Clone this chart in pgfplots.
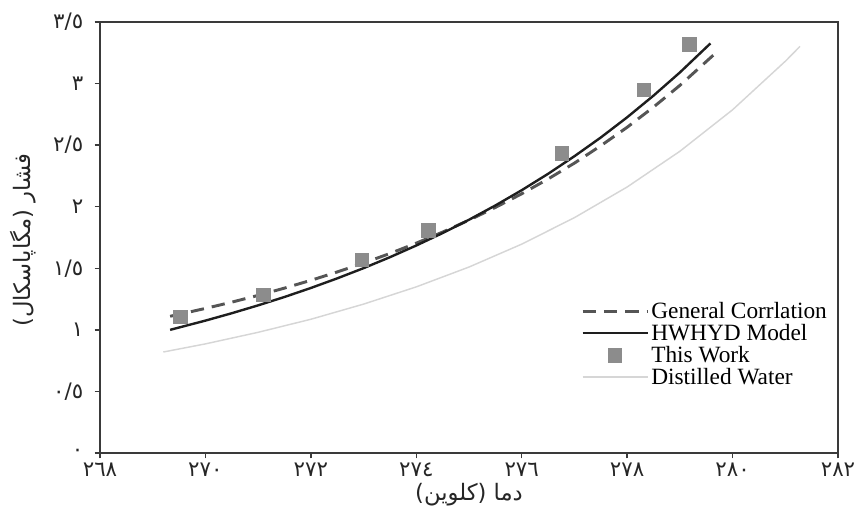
\documentclass[border=0pt]{standalone}
\usepackage{fontspec}
\setmainfont{Liberation Serif}
\newfontfamily\arabicfont[Script=Arabic]{DejaVu Sans}
\usepackage{pgfplots}
\pgfplotsset{compat=1.18}
\TeXXeTstate=1
\definecolor{framec}{HTML}{3A3A3A}
\definecolor{dashc}{HTML}{555555}
\definecolor{solidc}{HTML}{1E1E1E}
\definecolor{sqc}{HTML}{8C8C8C}
\definecolor{waterc}{HTML}{D6D6D6}
\pgfplotsset{marklegend/.style={legend image code/.code={\draw[##1] plot coordinates {(24pt,0pt)};}}}
\begin{document}
\begin{tikzpicture}[x=1pt,y=1pt]
\useasboundingbox (-75,-50.25) rectangle (576,339.75);
\begin{axis}[
  at={(0,0)}, anchor=south west,
  scale only axis, width=553.5pt, height=323.25pt,
  xmin=268, xmax=282, ymin=0, ymax=3.5,
  xtick={268,270,272,274,276,278,280,282},
  xticklabels={٢٦٨,٢٧٠,٢٧٢,٢٧٤,٢٧٦,٢٧٨,٢٨٠,٢٨٢},
  ytick={0,0.5,1,1.5,2,2.5,3,3.5},
  yticklabels={٠,٠/٥,١,١/٥,٢,٢/٥,٣,٣/٥},
  tick label style={font=\arabicfont\fontsize{16}{18}\selectfont, color=black!85},
  yticklabel style={xshift=-5pt},
  axis line style={color=framec, line width=2pt},
  tick style={color=framec, line width=1pt},
  tick align=outside, major tick length=4pt,
  xtick pos=bottom, ytick pos=left,
  xlabel={\arabicfont\beginR دما (کلوین)\endR},
  ylabel={\arabicfont\beginR فشار (مگاپاسکال)\endR},
  label style={font=\arabicfont\fontsize{17}{19}\selectfont, color=black!85},
  xlabel style={at={(axis description cs:0.5,-0.0974)}, anchor=center},
  ylabel style={at={(axis description cs:-0.1045,0.494)}, anchor=center},
  legend style={draw=none, fill=none, at={(0.988,0.352)}, anchor=north east,
    font=\fontsize{17.5}{18}\selectfont, row sep=1.8pt, inner sep=0pt,
    nodes={inner xsep=1.5pt, inner ysep=0.5pt}},
  legend cell align=left,
  legend image code/.code={\draw[#1] (0pt,0pt) -- (49pt,0pt);},
]
\addplot[color=dashc, line width=2.2pt, dash pattern=on 10pt off 6pt] coordinates {
(269.33,1.110) (270,1.174) (270.5,1.225) (271,1.280) (271.5,1.339) (272,1.402)
(272.5,1.470) (273,1.543) (273.5,1.620) (274,1.704) (274.5,1.794) (275,1.891)
(275.5,1.994) (276,2.105) (276.5,2.225) (277,2.354) (277.5,2.495) (278,2.645)
(278.5,2.809) (279,2.985) (279.69,3.252)};
\addlegendentry{General Corrlation}
\addplot[color=solidc, line width=1.8pt] coordinates {
(269.33,1.000) (270,1.075) (270.5,1.135) (271,1.199) (271.5,1.267) (272,1.340)
(272.5,1.418) (273,1.501) (273.5,1.590) (274,1.685) (274.5,1.786) (275,1.894)
(275.5,2.010) (276,2.134) (276.5,2.267) (277,2.410) (277.5,2.562) (278,2.726)
(278.5,2.902) (279,3.090) (279.58,3.326)};
\addlegendentry{HWHYD Model}
\addplot[only marks, mark=square*, mark size=5pt, color=sqc, marklegend] coordinates {
(269.52,1.107) (271.1,1.283) (272.96,1.567) (274.23,1.81) (276.76,2.434) (278.31,2.948) (279.18,3.32)};
\addlegendentry{This Work}
\addplot[color=waterc, line width=1.1pt] coordinates {
(269.2,0.820) (270,0.886) (271,0.980) (272,1.086) (273,1.209) (274,1.349)
(275,1.510) (276,1.696) (277,1.911) (278,2.160) (279,2.450) (280,2.787)
(281,3.181) (281.28,3.302)};
\addlegendentry{Distilled Water}
\end{axis}
\end{tikzpicture}
\end{document}
